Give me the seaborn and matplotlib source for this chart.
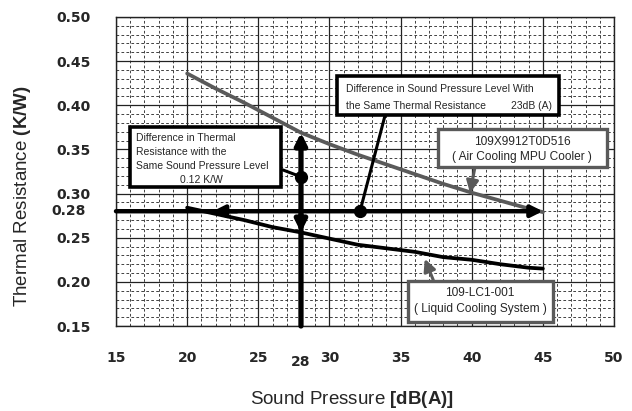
import numpy as np
import pandas as pd
import matplotlib
matplotlib.use("Agg")
import matplotlib.pyplot as plt
import seaborn as sns
from matplotlib.patches import Rectangle
from matplotlib.ticker import MultipleLocator

# Data
sound_pressure = [20, 22, 24, 26, 28, 30, 32, 34, 36, 38, 40, 42, 44, 45]
air_cooling = [0.436, 0.419, 0.403, 0.386, 0.369, 0.356, 0.344, 0.333,
               0.322, 0.311, 0.301, 0.292, 0.283, 0.279]
liquid_cooling = [0.284, 0.277, 0.270, 0.262, 0.256, 0.249, 0.242, 0.238,
                  0.234, 0.228, 0.225, 0.220, 0.216, 0.215]
x_ticks = [15, 20, 25, 30, 35, 40, 45, 50]
y_ticks = [0.15, 0.20, 0.25, 0.30, 0.35, 0.40, 0.45, 0.50]
same_spl = 28       # dB(A) reference level
same_res = 0.28     # K/W reference level

# Style
sns.set_theme(style="white")
plt.rcParams["font.family"] = ["Liberation Sans", "DejaVu Sans"]
plt.rcParams["mathtext.fontset"] = "custom"
plt.rcParams["mathtext.rm"] = "Liberation Sans"
plt.rcParams["mathtext.bf"] = "Liberation Sans:bold"

GRAY = "#5a5a5a"

fig = plt.figure(figsize=(6.32, 4.11), dpi=100)
ax = fig.add_axes([116 / 632, 85 / 411, 498 / 632, 309 / 411])

df = pd.DataFrame({
    "sound_pressure": sound_pressure * 2,
    "resistance": air_cooling + liquid_cooling,
    "cooler": ["air"] * len(air_cooling) + ["liquid"] * len(liquid_cooling),
})
sns.lineplot(data=df, x="sound_pressure", y="resistance", hue="cooler",
             palette={"air": GRAY, "liquid": "black"}, linewidth=2.7,
             legend=False, ax=ax, zorder=3)

# Axes and grid
ax.set_xlim(15, 50)
ax.set_ylim(0.15, 0.50)
ax.set_xticks(x_ticks)
ax.set_yticks(y_ticks)
ax.set_xticklabels([str(t) for t in x_ticks])
ax.set_yticklabels([f"{t:.2f}" for t in y_ticks])
ax.xaxis.set_minor_locator(MultipleLocator(1))
ax.yaxis.set_minor_locator(MultipleLocator(0.01))
ax.grid(which="major", color="#222222", lw=0.9, ls="-")
ax.grid(which="minor", color="#333333", lw=0.65, ls=(0, (3, 2.5)))
ax.set_axisbelow(True)
ax.tick_params(which="both", length=0)
ax.tick_params(axis="x", pad=18)
ax.tick_params(axis="y", pad=18.5)
for lab in ax.get_xticklabels() + ax.get_yticklabels():
    lab.set_fontfamily("DejaVu Sans")
    lab.set_fontweight("bold")
    lab.set_fontsize(10)
for sp in ax.spines.values():
    sp.set_color("#222222")
    sp.set_linewidth(1.0)
ax.set_xlabel("")
ax.set_ylabel("")

# Extra labels for the reference levels
ax.text(same_spl, -0.115, str(same_spl), transform=ax.get_xaxis_transform(),
        ha="center", va="center", fontfamily="DejaVu Sans",
        fontweight="bold", fontsize=10)
ax.text(-0.06, same_res, f"{same_res:.2f}", transform=ax.get_yaxis_transform(),
        ha="right", va="center", fontfamily="DejaVu Sans",
        fontweight="bold", fontsize=10)

fig.text(0.035, 0.523, "Thermal Resistance $\\mathbf{(K/W)}$", rotation=90,
         ha="center", va="center", fontsize=13.5)
fig.text(0.557, 0.027, "Sound Pressure $\\mathbf{[dB(A)]}$",
         ha="center", va="center", fontsize=13.5)

# Reference arrows
top_tip = np.interp(same_spl, sound_pressure, air_cooling)
low_tip = np.interp(same_spl, sound_pressure, liquid_cooling)
arrow_kw = dict(arrowstyle="-|>", color="black", shrinkA=0, shrinkB=0,
                mutation_scale=17)
ax.annotate("", xy=(45, same_res), xytext=(15, same_res),
            arrowprops=dict(lw=3.2, **arrow_kw), zorder=4)
ax.annotate("", xy=(21.8, same_res), xytext=(23.5, same_res),
            arrowprops=dict(lw=3.2, **arrow_kw), zorder=4)
ax.annotate("", xy=(same_spl, top_tip), xytext=(same_spl, 0.15),
            arrowprops=dict(lw=3.8, **arrow_kw), zorder=4)
ax.annotate("", xy=(same_spl, low_tip), xytext=(same_spl, low_tip + 0.02),
            arrowprops=dict(lw=3.8, **arrow_kw), zorder=4)

# Leader lines with dots
ax.plot([26.74, same_spl], [0.3267, 0.319], color="black", lw=2.2, zorder=4)
ax.plot([same_spl], [0.319], "o", color="black", ms=8.5, zorder=5)
ax.plot([33.9, 32.15], [0.388, same_res], color="black", lw=2.2, zorder=4)
ax.plot([32.15], [same_res], "o", color="black", ms=8.5, zorder=5)

gray_kw = dict(arrowstyle="-|>", color=GRAY, lw=2.2, shrinkA=0, shrinkB=0,
               mutation_scale=18)
ax.annotate("", xy=(39.88, 0.3007), xytext=(40.23, 0.330), arrowprops=gray_kw, zorder=4)
ax.annotate("", xy=(36.7, 0.226), xytext=(37.3, 0.202), arrowprops=gray_kw, zorder=4)

# Annotation boxes
def box(x0, x1, y0, y1, color, lw):
    ax.add_patch(Rectangle((x0, y0), x1 - x0, y1 - y0, facecolor="white",
                           edgecolor=color, lw=lw, zorder=6))

box(15.95, 26.63, 0.307, 0.375, "black", 2.6)
for txt, yy in zip(["Difference in Thermal", "Resistance with the",
                    "Same Sound Pressure Level"], [0.363, 0.347, 0.3312]):
    ax.text(16.4, yy, txt, ha="left", va="center", fontsize=7.5, zorder=7)
ax.text(20.97, 0.3154, "0.12 K/W", ha="center", va="center", fontsize=7.5, zorder=7)

box(30.5, 46.1, 0.389, 0.433, "black", 2.6)
ax.text(31.16, 0.4184, "Difference in Sound Pressure Level With",
        ha="left", va="center", fontsize=7.5, zorder=7)
ax.text(31.16, 0.3992, "the Same Thermal Resistance",
        ha="left", va="center", fontsize=7.5, zorder=7)
ax.text(45.64, 0.3992, "23dB (A)", ha="right", va="center", fontsize=7.5, zorder=7)

box(37.65, 49.5, 0.330, 0.373, GRAY, 2.4)
ax.text(43.53, 0.3584, "109X9912T0D516", ha="center", va="center", fontsize=8.6, zorder=7)
ax.text(43.53, 0.3414, "( Air Cooling MPU Cooler )", ha="center", va="center",
        fontsize=8.6, zorder=7)

box(35.55, 45.7, 0.155, 0.201, GRAY, 2.4)
ax.text(40.58, 0.1874, "109-LC1-001", ha="center", va="center", fontsize=8.6, zorder=7)
ax.text(40.58, 0.1693, "( Liquid Cooling System )", ha="center", va="center",
        fontsize=8.6, zorder=7)

fig.savefig("out.png", dpi=100)
